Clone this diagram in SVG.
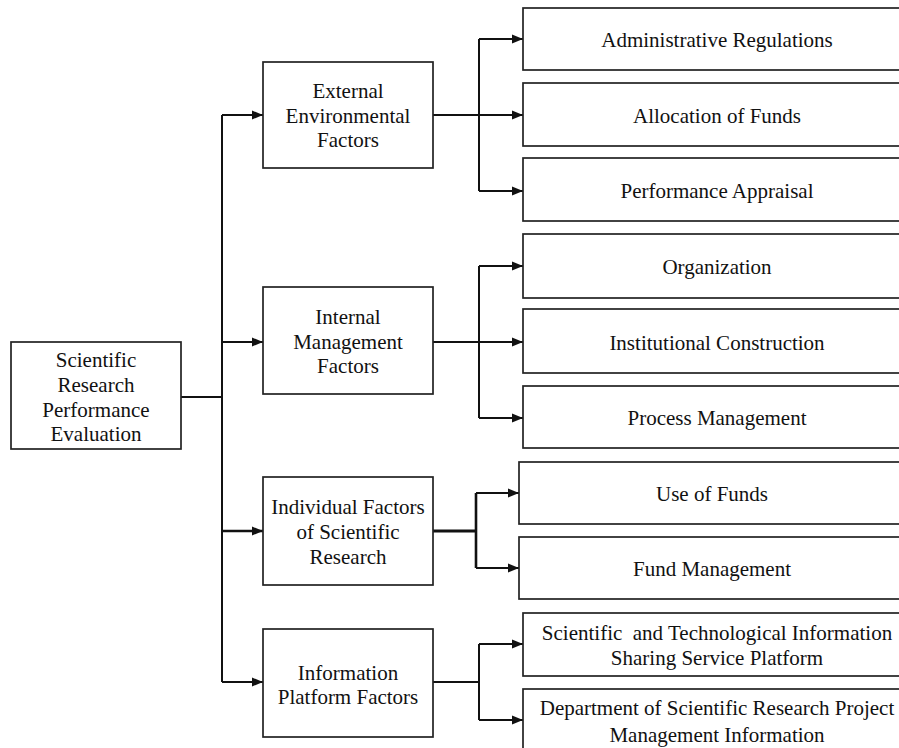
<svg xmlns="http://www.w3.org/2000/svg" width="899" height="748" viewBox="0 0 899 748">
<style>
.box{fill:#fff;stroke:#222;stroke-width:1.7}
.t{font-family:"Liberation Serif","Times New Roman",serif;font-size:21px;fill:#111;text-anchor:middle}
.c{fill:none;stroke:#111;stroke-width:2}
</style>
<defs>
<marker id="ah" viewBox="0 0 11 10" refX="11" refY="5" markerWidth="11" markerHeight="10" markerUnits="userSpaceOnUse" orient="auto">
<path d="M0,0.5 L11,5 L0,9.5 Z" fill="#111"/>
</marker>
</defs>
<rect width="899" height="748" fill="#fff"/>
<g id="connectors">
<path class="c" d="M181,397 H222"/>
<path class="c" d="M222,115 V682"/>
<path class="c" d="M222,115 H263" marker-end="url(#ah)"/>
<path class="c" d="M222,342 H263" marker-end="url(#ah)"/>
<path class="c" d="M222,531 H263" marker-end="url(#ah)" style="stroke-width:2.6"/>
<path class="c" d="M222,682 H263" marker-end="url(#ah)"/>
<path class="c" d="M433,115 H523" marker-end="url(#ah)"/>
<path class="c" d="M479,39 V191"/>
<path class="c" d="M479,39 H523" marker-end="url(#ah)"/>
<path class="c" d="M479,191 H523" marker-end="url(#ah)"/>
<path class="c" d="M433,342 H523" marker-end="url(#ah)"/>
<path class="c" d="M479,266 V418"/>
<path class="c" d="M479,266 H523" marker-end="url(#ah)"/>
<path class="c" d="M479,418 H523" marker-end="url(#ah)"/>
<path class="c" d="M433,531 H476" style="stroke-width:3"/>
<path class="c" d="M476,493 V568" style="stroke-width:2.6"/>
<path class="c" d="M476,493 H519" marker-end="url(#ah)"/>
<path class="c" d="M476,568 H519" marker-end="url(#ah)"/>
<path class="c" d="M433,682 H479"/>
<path class="c" d="M479,644 V720"/>
<path class="c" d="M479,644 H523" marker-end="url(#ah)"/>
<path class="c" d="M479,720 H523" marker-end="url(#ah)"/>
</g>
<g id="root">
<rect class="box" x="11" y="342" width="170" height="107"/>
<text class="t" x="96" y="367">Scientific</text>
<text class="t" x="96" y="392">Research</text>
<text class="t" x="96" y="417">Performance</text>
<text class="t" x="96" y="441">Evaluation</text>
</g>
<g id="external">
<rect class="box" x="263" y="62" width="170" height="106"/>
<text class="t" x="348" y="98">External</text>
<text class="t" x="348" y="123">Environmental</text>
<text class="t" x="348" y="147">Factors</text>
</g>
<g id="internal">
<rect class="box" x="263" y="287" width="170" height="107"/>
<text class="t" x="348" y="324">Internal</text>
<text class="t" x="348" y="349">Management</text>
<text class="t" x="348" y="373">Factors</text>
</g>
<g id="individual">
<rect class="box" x="263" y="477" width="170" height="108"/>
<text class="t" x="348" y="514">Individual Factors</text>
<text class="t" x="348" y="539">of Scientific</text>
<text class="t" x="348" y="564">Research</text>
</g>
<g id="information">
<rect class="box" x="263" y="629" width="170" height="108"/>
<text class="t" x="348" y="680">Information</text>
<text class="t" x="348" y="704">Platform Factors</text>
</g>
<g id="admin-regulations">
<rect class="box" x="523" y="8" width="390" height="62"/>
<text class="t" x="717" y="47">Administrative Regulations</text>
</g>
<g id="allocation-funds">
<rect class="box" x="523" y="83" width="390" height="63"/>
<text class="t" x="717" y="123">Allocation of Funds</text>
</g>
<g id="performance-appraisal">
<rect class="box" x="523" y="158" width="390" height="63"/>
<text class="t" x="717" y="198">Performance Appraisal</text>
</g>
<g id="organization">
<rect class="box" x="523" y="234" width="390" height="64"/>
<text class="t" x="717" y="274">Organization</text>
</g>
<g id="institutional-construction">
<rect class="box" x="523" y="309" width="390" height="64"/>
<text class="t" x="717" y="350">Institutional Construction</text>
</g>
<g id="process-management">
<rect class="box" x="523" y="386" width="390" height="62"/>
<text class="t" x="717" y="425">Process Management</text>
</g>
<g id="use-of-funds">
<rect class="box" x="519" y="462" width="390" height="62"/>
<text class="t" x="712" y="501">Use of Funds</text>
</g>
<g id="fund-management">
<rect class="box" x="519" y="537" width="390" height="62"/>
<text class="t" x="712" y="576">Fund Management</text>
</g>
<g id="info-sharing">
<rect class="box" x="523" y="613" width="390" height="63"/>
<text class="t" x="717" y="640" xml:space="preserve">Scientific  and Technological Information</text>
<text class="t" x="717" y="665">Sharing Service Platform</text>
</g>
<g id="project-management">
<rect class="box" x="523" y="689" width="390" height="70"/>
<text class="t" x="717" y="715">Department of Scientific Research Project</text>
<text class="t" x="717" y="742">Management Information</text>
</g>
</svg>
